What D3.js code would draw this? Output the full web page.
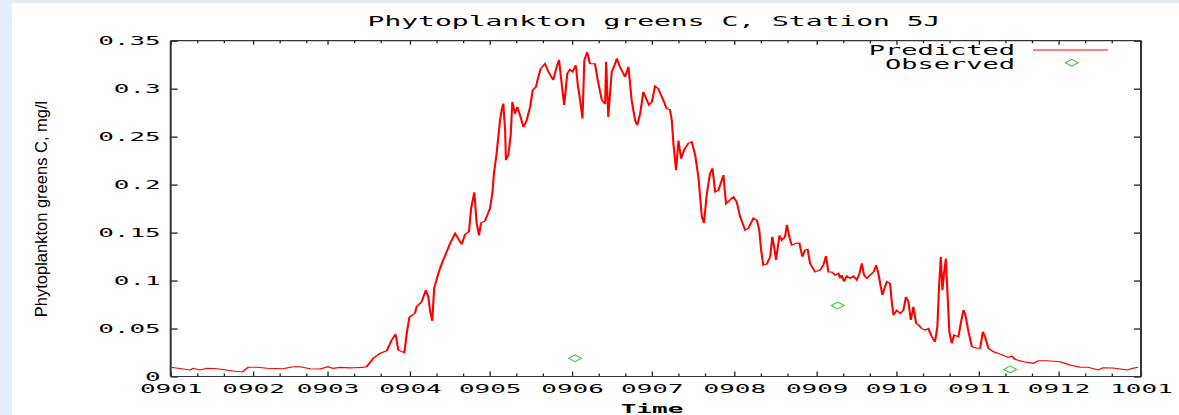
<!DOCTYPE html>
<html><head><meta charset="utf-8">
<script src="https://cdn.jsdelivr.net/npm/d3@7"></script>
<style>html,body{margin:0;padding:0;background:#fff;overflow:hidden}svg{display:block}</style>
</head><body><svg id="c" width="1179" height="415"></svg>
<script>
const chartTitle = "Phytoplankton greens C, Station 5J";
const yAxisTitle = "Phytoplankton greens C, mg/l";
const xAxisTitle = "Time";
const seriesNames = ["Predicted", "Observed"];
const yTickValues = [0, 0.05, 0.1, 0.15, 0.2, 0.25, 0.3, 0.35];
const yTickLabels = ["0", "0.05", "0.1", "0.15", "0.2", "0.25", "0.3", "0.35"];
const xTickLabels = ["0901","0902","0903","0904","0905","0906","0907","0908","0909","0910","0911","0912","1001"];
const startDate = Date.UTC(2009, 0, 1);
// Predicted: [days since 2009-01-01, mg/l]
const predicted = [
[0,0.0096],[7.3,0.0068],[8.4,0.0085],[11.0,0.0068],[13.7,0.0085],[17.5,0.008],[23.5,0.0057],[26.9,0.0047],
[29.2,0.0096],[32.5,0.0096],[36.2,0.0085],[42.3,0.008],[46.0,0.0102],[48.7,0.0102],[52.4,0.008],[56.2,0.0078],
[59.2,0.0102],[61.1,0.0085],[63.7,0.0095],[67.5,0.009],[69.3,0.0092],[72.0,0.0095],[73.7,0.0102],
[76.2,0.019],[78.7,0.024],[81.3,0.027],[83.1,0.038],[84.6,0.044],[85.6,0.0276],[87.9,0.0248],[88.8,0.045],
[89.8,0.0617],[91.9,0.066],[92.5,0.0727],[94.4,0.078],[96.0,0.090],[96.9,0.083],[97.6,0.0675],[98.4,0.058],
[99.1,0.092],[100.7,0.1075],[102.0,0.118],[103.8,0.130],[105.1,0.1387],[107.0,0.149],[109.5,0.1377],[110.7,0.148],
[112.2,0.151],[113.0,0.175],[114.2,0.192],[115.1,0.1596],[116.0,0.147],[116.7,0.160],[118.2,0.162],[120.1,0.175],
[121.0,0.191],[121.6,0.2117],[122.6,0.2325],[123.3,0.2516],[123.9,0.267],[124.5,0.2776],[125.1,0.2846],[125.8,0.2568],
[126.1,0.2255],[127.0,0.2307],[127.9,0.2516],[128.5,0.2862],[129.5,0.274],[130.4,0.281],[131.4,0.2724],[132.7,0.260],
[133.9,0.267],[135.2,0.281],[136.2,0.2984],[137.4,0.302],[138.3,0.3123],[139.2,0.321],[140.8,0.326],[142.1,0.3175],
[143.9,0.309],[145.2,0.3227],[146.1,0.330],[146.8,0.312],[148.0,0.283],[149.2,0.316],[150.2,0.320],[151.2,0.3175],
[152.4,0.3245],[153.1,0.305],[154.0,0.288],[154.9,0.269],[155.6,0.3297],[156.7,0.338],[157.7,0.326],[159.6,0.326],
[160.9,0.305],[162.2,0.288],[163.4,0.284],[163.8,0.328],[164.6,0.2706],[165.9,0.3175],[167.2,0.326],[167.8,0.3315],
[169.0,0.3227],[170.9,0.3123],[172.2,0.3227],[173.4,0.288],[174.7,0.267],[175.5,0.262],[176.6,0.274],[177.8,0.2967],
[179.1,0.288],[179.9,0.283],[181.0,0.286],[182.2,0.3026],[183.4,0.300],[185.3,0.288],[186.6,0.279],[187.8,0.2783],
[188.5,0.267],[189.1,0.243],[190.1,0.215],[191.0,0.246],[192.0,0.227],[193.1,0.236],[194.7,0.243],[196.0,0.2446],
[197.3,0.2307],[198.5,0.208],[199.8,0.1665],[200.6,0.160],[201.7,0.191],[202.9,0.2117],[203.8,0.217],[204.8,0.1925],
[206.0,0.194],[207.3,0.2047],[207.9,0.2099],[208.9,0.180],[210.4,0.184],[211.7,0.1873],[212.9,0.182],[214.2,0.1665],
[216.1,0.1526],[217.3,0.1544],[219.2,0.165],[220.5,0.163],[221.4,0.1526],[222.1,0.1318],[222.9,0.116],[224.2,0.117],
[225.5,0.1248],[226.3,0.1456],[227.0,0.135],[227.7,0.1214],[229.0,0.147],[229.9,0.142],[231.1,0.1456],[231.8,0.158],
[232.7,0.1456],[233.6,0.137],[235.5,0.139],[236.5,0.139],[237.6,0.1248],[238.6,0.1318],[239.6,0.1325],[240.5,0.118],
[242.4,0.109],[244.3,0.111],[245.5,0.116],[246.5,0.1255],[247.4,0.109],[248.7,0.109],[249.9,0.1057],[251.2,0.1075],
[251.8,0.1023],[252.4,0.1057],[253.3,0.0988],[254.3,0.1047],[255.6,0.1023],[256.8,0.1047],[258.1,0.1005],[259.1,0.1075],
[260.0,0.118],[260.8,0.1057],[261.9,0.1023],[263.1,0.1057],[264.4,0.109],[265.4,0.116],[266.2,0.1075],[267.1,0.0935],
[267.7,0.0849],[268.5,0.0919],[269.4,0.0988],[270.6,0.097],[271.3,0.076],[271.9,0.064],[273.1,0.069],[274.4,0.0658],
[275.6,0.069],[276.6,0.083],[277.5,0.078],[278.4,0.0589],[279.4,0.0727],[280.4,0.0554],[281.3,0.0536],[282.5,0.050],
[283.8,0.0484],[285.0,0.050],[286.3,0.0415],[287.5,0.036],[288.4,0.0519],[289.0,0.0919],[289.7,0.1248],[290.3,0.090],
[290.9,0.1075],[291.6,0.123],[292.2,0.0867],[292.9,0.0467],[293.8,0.0346],[294.7,0.0432],[296.3,0.0415],[297.2,0.0554],
[298.2,0.0693],[298.8,0.0658],[300.1,0.0467],[301.4,0.031],[303.2,0.0294],[304.5,0.0294],[305.5,0.0467],[306.3,0.0415],
[307.6,0.0294],[309.5,0.0258],[312.0,0.0234],[315.1,0.020],[316.4,0.0214],[317.6,0.0179],[320.8,0.0154],[324.5,0.0137],
[326.4,0.0165],[329.6,0.0165],[334.6,0.0154],[338.3,0.012],[342.1,0.0096],[345.1,0.0096],[348.9,0.0068],[350.8,0.0092],
[354.5,0.0088],[357.1,0.0078],[359.8,0.0068],[362.0,0.0085],[363.9,0.0096]
];
const observedDays = [152.1, 250.9, 315.8];
const observedValues = [0.019, 0.074, 0.0073];

const W = 1179, H = 415;
const L = 170.7, R = 1141, T = 40.7, B = 376.5;
const SX = 2; // horizontal stretch of the original raster
const svg = d3.select("#c");
const toDate = d => new Date(startDate + d * 864e5);

svg.append("rect").attr("width", W).attr("height", H).attr("fill", "#e4ecf7");
svg.append("rect").attr("x", 12).attr("y", 3).attr("width", W - 12).attr("height", H - 3).attr("fill", "#fff");

const x = d3.scaleUtc().domain([new Date(startDate), new Date(Date.UTC(2010, 0, 1))]).range([L, R]);
const y = d3.scaleLinear().domain([0, 0.35]).range([B, T]);

const monthTicks = d3.utcMonth.range(new Date(startDate), new Date(Date.UTC(2010, 0, 2)));
const minorTicks = [];
monthTicks.slice(0, -1).forEach(m => {
  [10, 20].forEach(k => minorTicks.push(new Date(+m + k * 864e5)));
});

const monoFont = "'DejaVu Sans Mono', monospace";
function styleText(g, size, dx) {
  g.selectAll("text")
    .attr("font-family", monoFont).attr("font-size", size).attr("fill", "#000")
    .attr("transform", `scale(${SX},1)`);
}

// minor x ticks (bottom and top)
const minorB = svg.append("g").attr("transform", `translate(0,${B})`)
  .call(d3.axisBottom(x).tickValues(minorTicks).tickSizeInner(-3).tickSizeOuter(0).tickFormat(""));
const minorT = svg.append("g").attr("transform", `translate(0,${T})`)
  .call(d3.axisTop(x).tickValues(minorTicks).tickSizeInner(-2.5).tickSizeOuter(0).tickFormat(""));
// major x ticks
const xb = svg.append("g").attr("transform", `translate(0,${B})`)
  .call(d3.axisBottom(x).tickValues(monthTicks).tickSizeInner(-5).tickSizeOuter(0).tickPadding(7)
    .tickFormat((d, i) => xTickLabels[i]));
const xt = svg.append("g").attr("transform", `translate(0,${T})`)
  .call(d3.axisTop(x).tickValues(monthTicks).tickSizeInner(-4).tickSizeOuter(0).tickFormat(""));
// y ticks
const yl = svg.append("g").attr("transform", `translate(${L},0)`)
  .call(d3.axisLeft(y).tickValues(yTickValues).tickSizeInner(-7).tickSizeOuter(0).tickPadding(10)
    .tickFormat((d, i) => yTickLabels[i]));
const yr = svg.append("g").attr("transform", `translate(${R},0)`)
  .call(d3.axisRight(y).tickValues(yTickValues).tickSizeInner(-7).tickSizeOuter(0).tickFormat(""));

[minorB, minorT, xb, xt, yl, yr].forEach(g => {
  g.select(".domain").remove();
  g.selectAll("line").attr("stroke", "#222").attr("stroke-width", 1.3);
});
styleText(xb, 13);
xb.selectAll("text").attr("x", 0);
styleText(yl, 13);
yl.selectAll("text").attr("x", -10 / SX);

// border
const border = svg.append("g").attr("stroke", "#333").attr("fill", "none");
border.append("line").attr("x1", L).attr("x2", L).attr("y1", T).attr("y2", B).attr("stroke-width", 2);
border.append("line").attr("x1", R).attr("x2", R).attr("y1", T).attr("y2", B).attr("stroke-width", 2);
border.append("line").attr("x1", L).attr("x2", R).attr("y1", T).attr("y2", T).attr("stroke-width", 1.2);
border.append("line").attr("x1", L).attr("x2", R).attr("y1", B).attr("y2", B).attr("stroke-width", 1.2);

// predicted line, drawn in stretched space
const xs = x.copy().range([L / SX, R / SX]);
const line = d3.line().x(d => xs(toDate(d[0]))).y(d => y(d[1]));
svg.append("g").attr("transform", `scale(${SX},1)`)
  .append("path").datum(predicted)
  .attr("d", line).attr("fill", "none").attr("stroke", "#ff0000").attr("stroke-width", 1.05)
  .attr("stroke-linejoin", "miter");

// observed diamonds
const diamond = "M0,-3.4L3.2,0L0,3.4L-3.2,0Z";
svg.append("g").selectAll("path").data(observedDays.map((d, i) => [d, observedValues[i]])).join("path")
  .attr("transform", d => `translate(${x(toDate(d[0]))},${y(d[1])}) scale(${SX},1)`)
  .attr("d", diamond).attr("fill", "none").attr("stroke", "#33cc33").attr("stroke-width", 0.8);

// legend
function stretched(xp, yp, txt, size, anchor, weight) {
  svg.append("text").attr("transform", `translate(${xp},${yp}) scale(${SX},1)`)
    .attr("text-anchor", anchor).attr("font-family", monoFont).attr("font-size", size)
    .attr("font-weight", weight || "normal").attr("fill", "#000").text(txt);
}
stretched(1015, 55, seriesNames[0], 13.5, "end");
stretched(1015, 68.5, seriesNames[1], 13.5, "end");
svg.append("line").attr("x1", 1033).attr("x2", 1108).attr("y1", 50).attr("y2", 50)
  .attr("stroke", "#ff0000").attr("stroke-width", 1);
svg.append("path").attr("transform", `translate(1071.7,62.7) scale(${SX},1)`)
  .attr("d", diamond).attr("fill", "none").attr("stroke", "#33cc33").attr("stroke-width", 0.8);

// titles
stretched(654, 26, chartTitle, 14, "middle");
stretched(652, 413, xAxisTitle, 13, "middle", "bold");
svg.append("text").attr("transform", "translate(47,209) rotate(-90)")
  .attr("text-anchor", "middle").attr("font-family", "'Liberation Sans', sans-serif")
  .attr("font-size", 16.5).attr("fill", "#000").text(yAxisTitle);
</script></body></html>
